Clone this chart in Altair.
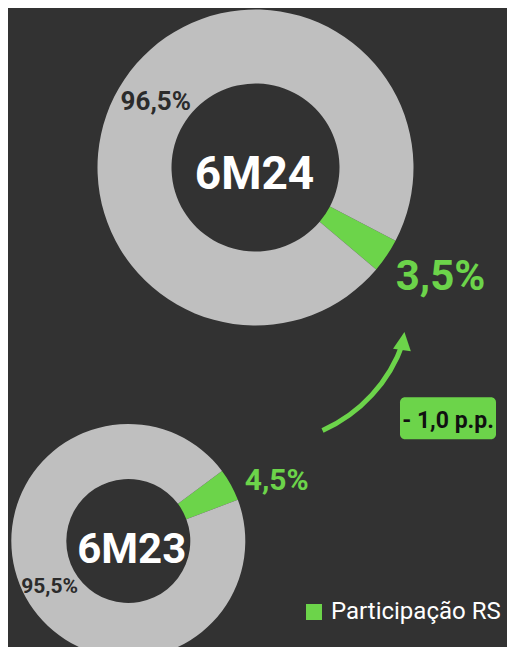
import math
import altair as alt
import pandas as pd

# ---- data ----
periods = ["6M24", "6M23"]
rs_share = [3.5, 4.5]          # Participação RS (%)
other_share = [96.5, 95.5]     # restante (%)
series = ["Participação RS", "Outros"]

GREEN = "#6CD44A"
GREY = "#BFBFBF"
BG = "#323232"
OFF = 8  # page margin


def fmt(v):
    return f"{v:.1f}".replace(".", ",") + "%"


def donut_df(i):
    return pd.DataFrame({
        "serie": series,
        "valor": [rs_share[i], other_share[i]],
        "ord": [0, 1],
        "periodo": periods[i],
    })


def donut(i, cx, cy, r_out, r_in, start_deg):
    start = math.radians(start_deg)
    return alt.Chart(donut_df(i)).mark_arc(
        radius=r_out, radius2=r_in, stroke=None
    ).encode(
        x=alt.value(cx - OFF),
        y=alt.value(cy - OFF),
        theta=alt.Theta("valor:Q", stack=True,
                        scale=alt.Scale(range=[start, start + 2 * math.pi])),
        order=alt.Order("ord:Q"),
        color=alt.Color(
            "serie:N",
            scale=alt.Scale(domain=series, range=[GREEN, GREY]),
            legend=alt.Legend(
                values=["Participação RS"], title=None, orient="none",
                legendX=302 - OFF, legendY=600 - OFF,
                symbolType="square", symbolSize=256, symbolStrokeWidth=0,
                symbolFillColor=GREEN, symbolOpacity=1,
                labelFontSize=24, labelColor="white", labelFont="Roboto",
                labelOffset=5, labelLimit=0, padding=0,
            ),
        ),
    )


def text(label, x, y, size, color, weight="bold", align="center"):
    return alt.Chart(pd.DataFrame({"t": [label]})).mark_text(
        fontSize=size, font="Roboto", fontWeight=weight, color=color,
        align=align, baseline="alphabetic"
    ).encode(x=alt.value(x - OFF), y=alt.value(y - OFF), text="t:N")


top = donut(0, 255.5, 167.5, 158, 84, 117.6)
bottom = donut(1, 128.3, 541, 117, 62, 53.2)

labels = [
    text(periods[0], 254.5, 188.5, 46, "white"),
    text(periods[1], 131.7, 563.3, 42, "white"),
    text(fmt(other_share[0]), 155.8, 110, 26, "#2b2b2b"),
    text(fmt(rs_share[0]), 440.5, 290, 42, GREEN),
    text(fmt(other_share[1]), 49.7, 593.3, 21, "#2b2b2b"),
    text(fmt(rs_share[1]), 276.7, 490, 30, GREEN),
]

# ---- arrow (curved) ----
acx, acy, ar = 261.7, 293.9, 149.5
arrow_arc = alt.Chart(pd.DataFrame({"a": [0]})).mark_arc(
    radius=ar + 2.5, radius2=ar - 2.5,
    theta=math.radians(109), theta2=math.radians(156), color=GREEN,
).encode(x=alt.value(acx - OFF), y=alt.value(acy - OFF))

arrow_head = alt.Chart(pd.DataFrame({"a": [0]})).mark_point(
    shape="M-1,1L1,1L0,-1Z", filled=True, size=324, angle=8,
    color=GREEN, opacity=1, strokeWidth=0,
).encode(x=alt.value(403.2 - OFF), y=alt.value(341 - OFF))

# ---- difference badge ----
diff = rs_share[0] - rs_share[1]
diff_label = ("- " if diff < 0 else "+ ") + f"{abs(diff):.1f}".replace(".", ",") + " p.p."
badge = alt.Chart(pd.DataFrame({"a": [0]})).mark_rect(
    color=GREEN, cornerRadius=5
).encode(
    x=alt.value(400 - OFF), x2=alt.value(496 - OFF),
    y=alt.value(397.3 - OFF), y2=alt.value(439.3 - OFF),
)
badge_text = text(diff_label, 448, 428.3, 23, "#111111")

chart = alt.layer(
    top, bottom, arrow_arc, arrow_head, badge, badge_text, *labels
).resolve_scale(theta="independent").properties(
    width=515 - 2 * OFF, height=655 - 2 * OFF,
    autosize=alt.AutoSizeParams(type="none"),
    padding=0, background=BG,
).configure_view(stroke=None)

chart.save("out.html", embed_options={"renderer": "svg", "actions": False})
